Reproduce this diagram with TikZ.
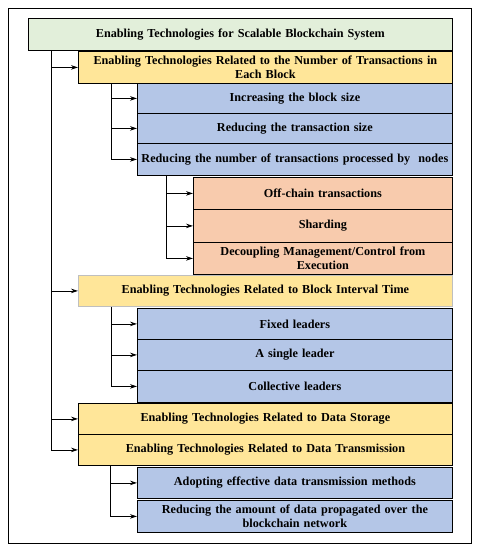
\documentclass[tikz,border=0pt]{standalone}
\usepackage{fontspec}
\setmainfont{Liberation Serif}
\usetikzlibrary{arrows.meta,calc}
\definecolor{cgreen}{HTML}{E2EFDA}
\definecolor{cyellow}{HTML}{FFE699}
\definecolor{cblue}{HTML}{B4C6E7}
\definecolor{corange}{HTML}{F8CBAD}
\tikzset{
  bx/.style={draw=black, line width=0.8pt, anchor=north west, inner sep=1pt, align=center,
    font=\fontsize{12.2}{14}\selectfont\bfseries},
  gbox/.style={bx, fill=cgreen},
  ybox/.style={bx, fill=cyellow},
  bbox/.style={bx, fill=cblue},
  obox/.style={bx, fill=corange},
  arr/.style={line width=0.8pt, -{Stealth[length=7pt,width=4.5pt]}},
}
\newcommand{\bxat}[7]{% style, name, x1, y1, x2, y2, text
  \node[#1, minimum width={(#5-#3)*1pt}, minimum height={(#6-#4)*1pt}, text width={(#5-#3-4)*1pt}] (#2) at (#3,-#4) {#7};}
\begin{document}
\begin{tikzpicture}[x=1pt,y=1pt]
\useasboundingbox (0,0) rectangle (483,-550);
\draw[line width=0.8pt] (8,-8) rectangle (471,-543);
\bxat{gbox}{g}{28}{18}{452}{50}{Enabling Technologies for Scalable Blockchain System}
\bxat{ybox}{y1}{78}{51}{452}{83}{Enabling Technologies Related to the Number of Transactions in\\Each Block}
\bxat{bbox}{b1}{137}{83}{452}{113}{Increasing the block size}
\bxat{bbox}{b2}{137}{113}{452}{143}{Reducing the transaction size}
\bxat{bbox}{b3}{137}{143}{452}{175}{Reducing the number of transactions processed by\ \ nodes}
\bxat{obox}{o1}{193}{177}{452}{209}{Off-chain transactions}
\bxat{obox}{o2}{193}{209}{452}{242}{Sharding}
\bxat{obox}{o3}{193}{242}{452}{274}{Decoupling Management/Control from\\Execution}
\bxat{ybox,draw=black!25}{y2}{78}{275}{452}{306}{Enabling Technologies Related to Block Interval Time}
\bxat{bbox}{c1}{137}{308}{452}{339}{Fixed leaders}
\bxat{bbox}{c2}{137}{339}{452}{370}{A single leader}
\bxat{bbox}{c3}{137}{370}{452}{402}{Collective leaders}
\bxat{ybox}{y3}{78}{403}{452}{434}{Enabling Technologies Related to Data Storage}
\bxat{ybox}{y4}{78}{434}{452}{465}{Enabling Technologies Related to Data Transmission}
\bxat{bbox}{d1}{137}{467}{452}{498}{Adopting effective data transmission methods}
\bxat{bbox}{d2}{137}{500}{452}{532}{Reducing the amount of data propagated over the\\blockchain network}
% level 1
\coordinate (t0) at ($(g.south west)+(23,0)$);
\foreach \n in {y1,y2,y3,y4} \draw[arr] (t0) |- (\n.west);
% level 2
\coordinate (t1) at ($(y1.south west)+(33,0)$);
\foreach \n in {b1,b2,b3} \draw[arr] (t1) |- (\n.west);
\coordinate (t2) at ($(b3.south west)+(29,0)$);
\foreach \n in {o1,o2,o3} \draw[arr] (t2) |- (\n.west);
\coordinate (t3) at ($(y2.south west)+(33,0)$);
\foreach \n in {c1,c2,c3} \draw[arr] (t3) |- (\n.west);
\coordinate (t4) at ($(y4.south west)+(32,0)$);
\foreach \n in {d1,d2} \draw[arr] (t4) |- (\n.west);
\end{tikzpicture}
\end{document}
